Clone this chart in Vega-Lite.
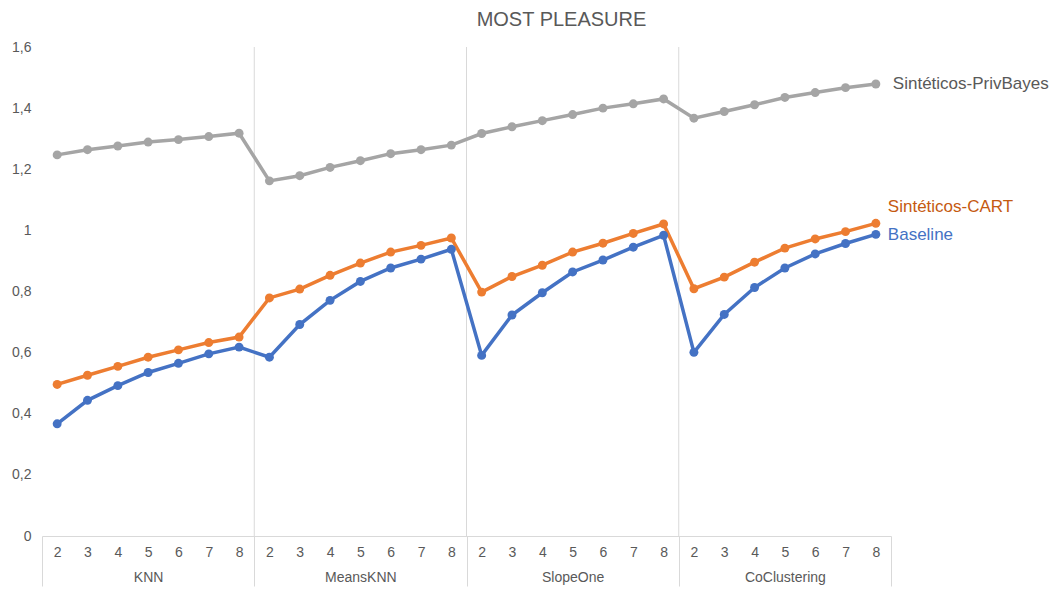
{
  "$schema": "https://vega.github.io/schema/vega-lite/v6.json",
  "width": 849,
  "height": 489,
  "autosize": "none",
  "padding": {"left": 42, "top": 47, "right": 166, "bottom": 54},
  "title": {
    "text": "MOST PLEASURE",
    "font": "Liberation Sans",
    "fontSize": 20,
    "fontWeight": "normal",
    "color": "#595959",
    "anchor": "middle",
    "frame": "group",
    "dx": 95,
    "offset": 10
  },
  "config": {
    "view": {"stroke": null},
    "axis": {
      "labelFont": "Liberation Sans",
      "labelFontSize": 14,
      "labelColor": "#595959",
      "grid": false,
      "title": null
    }
  },
  "datasets": {
    "bounds": [{"edge": 7.5}, {"edge": 14.5}, {"edge": 21.5}],
    "scores": [
      {"pos": 1, "algorithm": "KNN", "k": 2, "series": "Baseline", "value": 0.367},
      {"pos": 2, "algorithm": "KNN", "k": 3, "series": "Baseline", "value": 0.444},
      {"pos": 3, "algorithm": "KNN", "k": 4, "series": "Baseline", "value": 0.492},
      {"pos": 4, "algorithm": "KNN", "k": 5, "series": "Baseline", "value": 0.535},
      {"pos": 5, "algorithm": "KNN", "k": 6, "series": "Baseline", "value": 0.565},
      {"pos": 6, "algorithm": "KNN", "k": 7, "series": "Baseline", "value": 0.596},
      {"pos": 7, "algorithm": "KNN", "k": 8, "series": "Baseline", "value": 0.618},
      {"pos": 8, "algorithm": "MeansKNN", "k": 2, "series": "Baseline", "value": 0.585},
      {"pos": 9, "algorithm": "MeansKNN", "k": 3, "series": "Baseline", "value": 0.692},
      {"pos": 10, "algorithm": "MeansKNN", "k": 4, "series": "Baseline", "value": 0.771},
      {"pos": 11, "algorithm": "MeansKNN", "k": 5, "series": "Baseline", "value": 0.833},
      {"pos": 12, "algorithm": "MeansKNN", "k": 6, "series": "Baseline", "value": 0.877},
      {"pos": 13, "algorithm": "MeansKNN", "k": 7, "series": "Baseline", "value": 0.906},
      {"pos": 14, "algorithm": "MeansKNN", "k": 8, "series": "Baseline", "value": 0.938},
      {"pos": 15, "algorithm": "SlopeOne", "k": 2, "series": "Baseline", "value": 0.591},
      {"pos": 16, "algorithm": "SlopeOne", "k": 3, "series": "Baseline", "value": 0.723},
      {"pos": 17, "algorithm": "SlopeOne", "k": 4, "series": "Baseline", "value": 0.796},
      {"pos": 18, "algorithm": "SlopeOne", "k": 5, "series": "Baseline", "value": 0.864},
      {"pos": 19, "algorithm": "SlopeOne", "k": 6, "series": "Baseline", "value": 0.903},
      {"pos": 20, "algorithm": "SlopeOne", "k": 7, "series": "Baseline", "value": 0.945},
      {"pos": 21, "algorithm": "SlopeOne", "k": 8, "series": "Baseline", "value": 0.984},
      {"pos": 22, "algorithm": "CoClustering", "k": 2, "series": "Baseline", "value": 0.601},
      {"pos": 23, "algorithm": "CoClustering", "k": 3, "series": "Baseline", "value": 0.725},
      {"pos": 24, "algorithm": "CoClustering", "k": 4, "series": "Baseline", "value": 0.813},
      {"pos": 25, "algorithm": "CoClustering", "k": 5, "series": "Baseline", "value": 0.877},
      {"pos": 26, "algorithm": "CoClustering", "k": 6, "series": "Baseline", "value": 0.923},
      {"pos": 27, "algorithm": "CoClustering", "k": 7, "series": "Baseline", "value": 0.957},
      {"pos": 28, "algorithm": "CoClustering", "k": 8, "series": "Baseline", "value": 0.987},

      {"pos": 1, "algorithm": "KNN", "k": 2, "series": "Sintéticos-CART", "value": 0.496},
      {"pos": 2, "algorithm": "KNN", "k": 3, "series": "Sintéticos-CART", "value": 0.526},
      {"pos": 3, "algorithm": "KNN", "k": 4, "series": "Sintéticos-CART", "value": 0.555},
      {"pos": 4, "algorithm": "KNN", "k": 5, "series": "Sintéticos-CART", "value": 0.585},
      {"pos": 5, "algorithm": "KNN", "k": 6, "series": "Sintéticos-CART", "value": 0.609},
      {"pos": 6, "algorithm": "KNN", "k": 7, "series": "Sintéticos-CART", "value": 0.633},
      {"pos": 7, "algorithm": "KNN", "k": 8, "series": "Sintéticos-CART", "value": 0.651},
      {"pos": 8, "algorithm": "MeansKNN", "k": 2, "series": "Sintéticos-CART", "value": 0.779},
      {"pos": 9, "algorithm": "MeansKNN", "k": 3, "series": "Sintéticos-CART", "value": 0.808},
      {"pos": 10, "algorithm": "MeansKNN", "k": 4, "series": "Sintéticos-CART", "value": 0.853},
      {"pos": 11, "algorithm": "MeansKNN", "k": 5, "series": "Sintéticos-CART", "value": 0.893},
      {"pos": 12, "algorithm": "MeansKNN", "k": 6, "series": "Sintéticos-CART", "value": 0.929},
      {"pos": 13, "algorithm": "MeansKNN", "k": 7, "series": "Sintéticos-CART", "value": 0.951},
      {"pos": 14, "algorithm": "MeansKNN", "k": 8, "series": "Sintéticos-CART", "value": 0.975},
      {"pos": 15, "algorithm": "SlopeOne", "k": 2, "series": "Sintéticos-CART", "value": 0.798},
      {"pos": 16, "algorithm": "SlopeOne", "k": 3, "series": "Sintéticos-CART", "value": 0.849},
      {"pos": 17, "algorithm": "SlopeOne", "k": 4, "series": "Sintéticos-CART", "value": 0.886},
      {"pos": 18, "algorithm": "SlopeOne", "k": 5, "series": "Sintéticos-CART", "value": 0.929},
      {"pos": 19, "algorithm": "SlopeOne", "k": 6, "series": "Sintéticos-CART", "value": 0.958},
      {"pos": 20, "algorithm": "SlopeOne", "k": 7, "series": "Sintéticos-CART", "value": 0.990},
      {"pos": 21, "algorithm": "SlopeOne", "k": 8, "series": "Sintéticos-CART", "value": 1.021},
      {"pos": 22, "algorithm": "CoClustering", "k": 2, "series": "Sintéticos-CART", "value": 0.809},
      {"pos": 23, "algorithm": "CoClustering", "k": 3, "series": "Sintéticos-CART", "value": 0.847},
      {"pos": 24, "algorithm": "CoClustering", "k": 4, "series": "Sintéticos-CART", "value": 0.896},
      {"pos": 25, "algorithm": "CoClustering", "k": 5, "series": "Sintéticos-CART", "value": 0.942},
      {"pos": 26, "algorithm": "CoClustering", "k": 6, "series": "Sintéticos-CART", "value": 0.972},
      {"pos": 27, "algorithm": "CoClustering", "k": 7, "series": "Sintéticos-CART", "value": 0.996},
      {"pos": 28, "algorithm": "CoClustering", "k": 8, "series": "Sintéticos-CART", "value": 1.023},

      {"pos": 1, "algorithm": "KNN", "k": 2, "series": "Sintéticos-PrivBayes", "value": 1.247},
      {"pos": 2, "algorithm": "KNN", "k": 3, "series": "Sintéticos-PrivBayes", "value": 1.264},
      {"pos": 3, "algorithm": "KNN", "k": 4, "series": "Sintéticos-PrivBayes", "value": 1.276},
      {"pos": 4, "algorithm": "KNN", "k": 5, "series": "Sintéticos-PrivBayes", "value": 1.289},
      {"pos": 5, "algorithm": "KNN", "k": 6, "series": "Sintéticos-PrivBayes", "value": 1.297},
      {"pos": 6, "algorithm": "KNN", "k": 7, "series": "Sintéticos-PrivBayes", "value": 1.307},
      {"pos": 7, "algorithm": "KNN", "k": 8, "series": "Sintéticos-PrivBayes", "value": 1.318},
      {"pos": 8, "algorithm": "MeansKNN", "k": 2, "series": "Sintéticos-PrivBayes", "value": 1.162},
      {"pos": 9, "algorithm": "MeansKNN", "k": 3, "series": "Sintéticos-PrivBayes", "value": 1.179},
      {"pos": 10, "algorithm": "MeansKNN", "k": 4, "series": "Sintéticos-PrivBayes", "value": 1.206},
      {"pos": 11, "algorithm": "MeansKNN", "k": 5, "series": "Sintéticos-PrivBayes", "value": 1.228},
      {"pos": 12, "algorithm": "MeansKNN", "k": 6, "series": "Sintéticos-PrivBayes", "value": 1.251},
      {"pos": 13, "algorithm": "MeansKNN", "k": 7, "series": "Sintéticos-PrivBayes", "value": 1.264},
      {"pos": 14, "algorithm": "MeansKNN", "k": 8, "series": "Sintéticos-PrivBayes", "value": 1.279},
      {"pos": 15, "algorithm": "SlopeOne", "k": 2, "series": "Sintéticos-PrivBayes", "value": 1.317},
      {"pos": 16, "algorithm": "SlopeOne", "k": 3, "series": "Sintéticos-PrivBayes", "value": 1.339},
      {"pos": 17, "algorithm": "SlopeOne", "k": 4, "series": "Sintéticos-PrivBayes", "value": 1.359},
      {"pos": 18, "algorithm": "SlopeOne", "k": 5, "series": "Sintéticos-PrivBayes", "value": 1.379},
      {"pos": 19, "algorithm": "SlopeOne", "k": 6, "series": "Sintéticos-PrivBayes", "value": 1.400},
      {"pos": 20, "algorithm": "SlopeOne", "k": 7, "series": "Sintéticos-PrivBayes", "value": 1.414},
      {"pos": 21, "algorithm": "SlopeOne", "k": 8, "series": "Sintéticos-PrivBayes", "value": 1.430},
      {"pos": 22, "algorithm": "CoClustering", "k": 2, "series": "Sintéticos-PrivBayes", "value": 1.367},
      {"pos": 23, "algorithm": "CoClustering", "k": 3, "series": "Sintéticos-PrivBayes", "value": 1.389},
      {"pos": 24, "algorithm": "CoClustering", "k": 4, "series": "Sintéticos-PrivBayes", "value": 1.411},
      {"pos": 25, "algorithm": "CoClustering", "k": 5, "series": "Sintéticos-PrivBayes", "value": 1.435},
      {"pos": 26, "algorithm": "CoClustering", "k": 6, "series": "Sintéticos-PrivBayes", "value": 1.451},
      {"pos": 27, "algorithm": "CoClustering", "k": 7, "series": "Sintéticos-PrivBayes", "value": 1.467},
      {"pos": 28, "algorithm": "CoClustering", "k": 8, "series": "Sintéticos-PrivBayes", "value": 1.479}
    ]
  },
  "resolve": {"axis": {"x": "independent", "y": "independent"}},
  "layer": [
    {
      "data": {"name": "bounds"},
      "mark": {"type": "rule", "color": "#d9d9d9", "strokeWidth": 1},
      "encoding": {
        "x": {
          "field": "edge",
          "type": "quantitative",
          "scale": {"domain": [0.5, 28.5], "nice": false, "zero": false},
          "axis": {
            "orient": "bottom",
            "values": [0.5, 7.5, 14.5, 21.5, 28.5],
            "labels": false,
            "domain": false,
            "ticks": true,
            "tickSize": 50,
            "tickColor": "#d9d9d9",
            "tickWidth": 1
          }
        },
        "y": {"datum": 0, "type": "quantitative", "scale": {"domain": [0, 1.6], "nice": false}, "axis": null},
        "y2": {"datum": 1.6}
      }
    },
    {
      "data": {"name": "scores"},
      "mark": {"type": "line", "strokeWidth": 3.5, "point": {"filled": true, "size": 80}},
      "encoding": {
        "x": {
          "field": "pos",
          "type": "quantitative",
          "scale": {"domain": [0.5, 28.5], "nice": false, "zero": false},
          "axis": {
            "orient": "bottom",
            "values": [1, 2, 3, 4, 5, 6, 7, 8, 9, 10, 11, 12, 13, 14, 15, 16, 17, 18, 19, 20, 21, 22, 23, 24, 25, 26, 27, 28],
            "labelExpr": "'' + ((datum.value - 1) % 7 + 2)",
            "ticks": false,
            "domain": true,
            "domainColor": "#d9d9d9",
            "domainWidth": 1,
            "labelPadding": 9,
            "labelFlush": false,
            "labelOverlap": false
          }
        },
        "y": {
          "field": "value",
          "type": "quantitative",
          "scale": {"domain": [0, 1.6], "nice": false},
          "axis": {
            "orient": "left",
            "values": [0, 0.2, 0.4, 0.6, 0.8, 1, 1.2, 1.4, 1.6],
            "labelExpr": "replace(format(datum.value, '~g'), '.', ',')",
            "ticks": false,
            "domain": false,
            "labelPadding": 11
          }
        },
        "color": {
          "field": "series",
          "type": "nominal",
          "scale": {
            "domain": ["Baseline", "Sintéticos-CART", "Sintéticos-PrivBayes"],
            "range": ["#4472C4", "#ED7D31", "#A5A5A5"]
          },
          "legend": null
        },
        "order": {"field": "pos", "type": "quantitative"}
      }
    },
    {
      "data": {"name": "scores"},
      "transform": [{"filter": "datum.pos == 28 && datum.series == 'Sintéticos-PrivBayes'"}],
      "mark": {"type": "text", "align": "left", "baseline": "middle", "dx": 17, "dy": 0, "font": "Liberation Sans", "fontSize": 17, "color": "#595959"},
      "encoding": {
        "x": {
          "field": "pos",
          "type": "quantitative",
          "scale": {"domain": [0.5, 28.5], "nice": false, "zero": false},
          "axis": {
            "orient": "bottom",
            "values": [4, 11, 18, 25],
            "labelExpr": "['KNN', 'MeansKNN', 'SlopeOne', 'CoClustering'][(datum.value - 4) / 7]",
            "ticks": false,
            "domain": false,
            "labelPadding": 34,
            "labelFlush": false
          }
        },
        "y": {"field": "value", "type": "quantitative", "scale": {"domain": [0, 1.6], "nice": false}, "axis": null},
        "text": {"field": "series"}
      }
    },
    {
      "data": {"name": "scores"},
      "transform": [{"filter": "datum.pos == 28 && datum.series == 'Sintéticos-CART'"}],
      "mark": {"type": "text", "align": "left", "baseline": "middle", "dx": 12, "dy": -16, "font": "Liberation Sans", "fontSize": 17, "color": "#C55A11"},
      "encoding": {
        "x": {"field": "pos", "type": "quantitative", "scale": {"domain": [0.5, 28.5], "nice": false, "zero": false}, "axis": null},
        "y": {"field": "value", "type": "quantitative", "scale": {"domain": [0, 1.6], "nice": false}, "axis": null},
        "text": {"field": "series"}
      }
    },
    {
      "data": {"name": "scores"},
      "transform": [{"filter": "datum.pos == 28 && datum.series == 'Baseline'"}],
      "mark": {"type": "text", "align": "left", "baseline": "middle", "dx": 12, "dy": 1, "font": "Liberation Sans", "fontSize": 17, "color": "#4472C4"},
      "encoding": {
        "x": {"field": "pos", "type": "quantitative", "scale": {"domain": [0.5, 28.5], "nice": false, "zero": false}, "axis": null},
        "y": {"field": "value", "type": "quantitative", "scale": {"domain": [0, 1.6], "nice": false}, "axis": null},
        "text": {"field": "series"}
      }
    }
  ]
}
